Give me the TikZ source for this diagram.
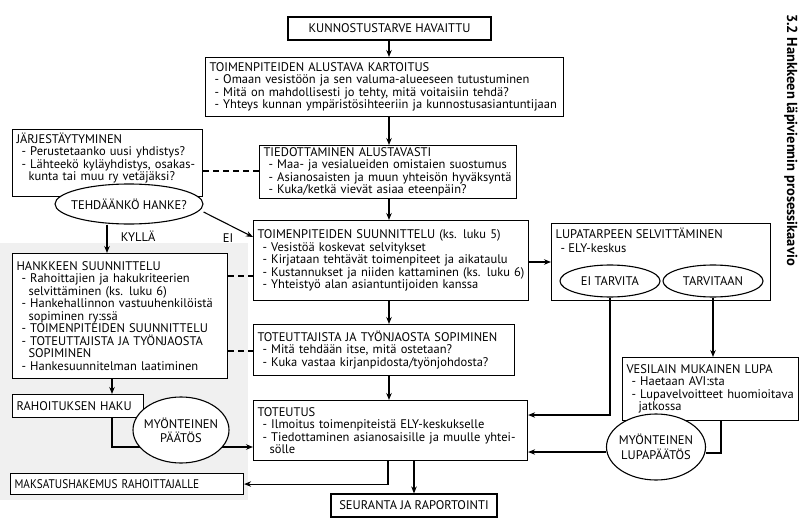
\documentclass[tikz,border=0pt]{standalone}
\usepackage{fontspec}
\setmainfont{PT Sans}
\newfontfamily\kapea[FakeStretch=0.9]{PT Sans}
\usetikzlibrary{arrows.meta,shapes.geometric}

\newcommand{\teksti}{\fontsize{12.5}{12.5}\selectfont\lineskiplimit=-20pt}
\newcommand{\kohta}[1]{\hspace*{5pt}\mbox{- #1}}
\newcommand{\jatko}[1]{\hspace*{12pt}\mbox{#1}}
\newcommand{\keski}[1]{\makebox[0pt]{#1}}

\begin{document}
\begin{tikzpicture}[x=1pt, y=-1pt, line width=1.1pt,
    every node/.style={font=\teksti},
    laatikko/.style={draw, fill=white, align=left, anchor=north west, inner xsep=4pt, inner ysep=2pt},
    otsikko/.style={draw, fill=white, inner sep=2pt},
    soikio/.style={draw, ellipse, fill=white, inner sep=0pt, align=center},
    nuoli/.style={-{Stealth[length=7pt,width=5.5pt]}},
    katko/.style={dash pattern=on 6pt off 4pt}]
    \useasboundingbox (0,0) rectangle (812,527);
    \fill[white] (0,0) rectangle (812,527);
    \fill[black!6] (0,243) rectangle (248,500);

    % paapolku
    \node[otsikko, minimum width=203pt, minimum height=23pt] (havaittu) at (389.5,28.5) {KUNNOSTUSTARVE HAVAITTU};
    \node[laatikko, text width=350pt, minimum height=59pt] (kartoitus) at (205,57) {TOIMENPITEIDEN ALUSTAVA KARTOITUS\\
        \kohta{Omaan vesistöön ja sen valuma-alueeseen tutustuminen}\\
        \kohta{Mitä on mahdollisesti jo tehty, mitä voitaisiin tehdä?}\\
        \kohta{Yhteys kunnan ympäristösihteeriin ja kunnostusasiantuntijaan}};
    \node[laatikko, text width=249pt, minimum height=53pt] (tiedotus) at (259,145) {TIEDOTTAMINEN ALUSTAVASTI\\
        \kohta{Maa- ja vesialueiden omistaien suostumus}\\
        \kohta{Asianosaisten ja muun yhteisön hyväksyntä}\\
        \kohta{Kuka/ketkä vievät asiaa eteenpäin?}};
    \node[laatikko, text width=267pt, minimum height=80pt] (suunnittelu) at (253,220) {TOIMENPITEIDEN SUUNNITTELU (ks. luku 5)\\
        \kohta{Vesistöä koskevat selvitykset}\\
        \kohta{Kirjataan tehtävät toimenpiteet ja aikataulu}\\
        \kohta{Kustannukset ja niiden kattaminen (ks. luku 6)}\\
        \kohta{Yhteistyö alan asiantuntijoiden kanssa}};
    \node[laatikko, text width=253pt, minimum height=51pt] (toteuttajat) at (253,324) {TOTEUTTAJISTA JA TYÖNJAOSTA SOPIMINEN\\
        \kohta{Mitä tehdään itse, mitä ostetaan?}\\
        \kohta{Kuka vastaa kirjanpidosta/työnjohdosta?}};
    \node[laatikko, text width=266pt, minimum height=60pt] (toteutus) at (253,400) {TOTEUTUS\\
        \kohta{Ilmoitus toimenpiteistä ELY-keskukselle}\\
        \kohta{Tiedottaminen asianosaisille ja muulle yhtei-}\\
        \jatko{sölle}};
    \node[otsikko, minimum width=166pt, minimum height=23pt] (seuranta) at (414,505.5) {SEURANTA JA RAPORTOINTI};

    % vasen haara
    \node[laatikko, text width=182pt, text depth=50pt, minimum height=67pt] (jarj) at (12,129) {JÄRJESTÄYTYMINEN\\
        \kohta{Perustetaanko uusi yhdistys?}\\
        \kohta{Lähteekö kyläyhdistys, osakas-}\\
        \jatko{kunta tai muu ry vetäjäksi?}};
    \node[soikio, minimum width=148pt, minimum height=40pt] (tehdaanko) at (129,204) {\keski{TEHDÄÄNKÖ HANKE?}};
    \node[laatikko, text width=207pt, minimum height=125pt] (hanke) at (12,253) {HANKKEEN SUUNNITTELU\\
        \kohta{Rahoittajien ja hakukriteerien}\\
        \jatko{selvittäminen (ks. luku 6)}\\
        \kohta{Hankehallinnon vastuuhenkilöistä}\\
        \jatko{sopiminen ry:ssä}\\
        \kohta{TOIMENPITEIDEN SUUNNITTELU}\\
        \kohta{TOTEUTTAJISTA JA TYÖNJAOSTA}\\
        \jatko{SOPIMINEN}\\
        \kohta{Hankesuunnitelman laatiminen}};
    \node[laatikko, text width=123pt, minimum height=23pt] (rahoitus) at (12,394) {RAHOITUKSEN HAKU};
    \node[laatikko, text width=225pt, minimum height=21pt, font=\kapea\teksti] (maksatus) at (10,473) {MAKSATUSHAKEMUS RAHOITTAJALLE};

    % oikea haara
    \node[laatikko, minimum width=219pt, minimum height=77pt] (lupatarve) at (551,223) {};
    \node[anchor=north west, align=left, inner xsep=4pt, inner ysep=4pt] (lupateksti) at (lupatarve.north west) {LUPATARPEEN SELVITTÄMINEN\\[1.5pt]
        \kohta{ELY-keskus}};
    \node[soikio, minimum width=100pt, minimum height=32pt] (eitarv) at (610,281) {\keski{EI TARVITA}};
    \node[soikio, minimum width=100pt, minimum height=32pt] (tarv) at (713,281) {\keski{TARVITAAN}};
    \node[laatikko, text width=168pt, minimum height=63pt] (vesilupa) at (622,357) {VESILAIN MUKAINEN LUPA\\
        \kohta{Haetaan AVI:sta}\\
        \kohta{Lupavelvoitteet huomioitava}\\
        \jatko{jatkossa}};

    \node[rotate=-90, font=\bfseries\fontsize{14.5}{16}\selectfont] (nimi) at (791,140) {3.2 Hankkeen läpiviennin prosessikaavio};

    % nuolet
    \draw[nuoli] (havaittu.south -| 389,0) -- (kartoitus.north -| 389,0);
    \draw[nuoli] (kartoitus.south -| 389,0) -- (tiedotus.north -| 389,0);
    \draw[nuoli] (tiedotus.south -| 389,0) -- (suunnittelu.north -| 389,0);
    \draw[nuoli] (suunnittelu.south -| 389,0) -- (toteuttajat.north -| 389,0);
    \draw[nuoli] (toteuttajat.south -| 389,0) -- (toteutus.north -| 389,0);
    \draw[nuoli] (toteutus.south -| seuranta.north) -- (seuranta.north);
    \draw[nuoli] (toteutus.south -| 388,0) |- (maksatus.east);

    \draw[katko] (jarj.east |- 0,171) -- (tiedotus.west |- 0,171);
    \draw[katko] (hanke.east |- 0,276) -- (suunnittelu.west |- 0,276);
    \draw[katko] (hanke.east |- 0,351) -- (toteuttajat.west |- 0,351);

    \draw[nuoli] (tehdaanko.south -| 107,0) -- (hanke.north -| 107,0);
    \node[anchor=west] (kylla) at (117,236) {KYLLÄ};
    \draw[nuoli] (tehdaanko.east |- 0,212) -- ([yshift=-17pt]suunnittelu.north west);
    \node[anchor=west] (ei) at (219,238) {EI};

    \draw[nuoli] (hanke.south -| 112,0) -- (rahoitus.north -| 112,0);
    \draw[nuoli] (rahoitus.south -| 112,0) |- (toteutus.west |- 0,447);
    \node[soikio, minimum width=96pt, minimum height=66pt] (paatos) at (181,430) {\keski{MYÖNTEINEN}\\[1.5pt]\keski{PÄÄTÖS}};

    \draw[nuoli] (suunnittelu.east |- 0,262) -- (lupatarve.west |- 0,262);
    \draw[nuoli] (eitarv.south) |- (toteutus.east |- 0,415);
    \draw[nuoli] (tarv.south) -- (tarv.south |- vesilupa.north);
    \node[soikio, minimum width=99pt, minimum height=66pt] (lupapaatos) at (656,447) {\keski{MYÖNTEINEN}\\[2pt]\keski{LUPAPÄÄTÖS}};
    \draw (vesilupa.south -| 721,0) |- (lupapaatos.east |- 0,453);
    \draw[nuoli] (lupapaatos.west |- 0,452) -- (toteutus.east |- 0,452);
\end{tikzpicture}
\end{document}
